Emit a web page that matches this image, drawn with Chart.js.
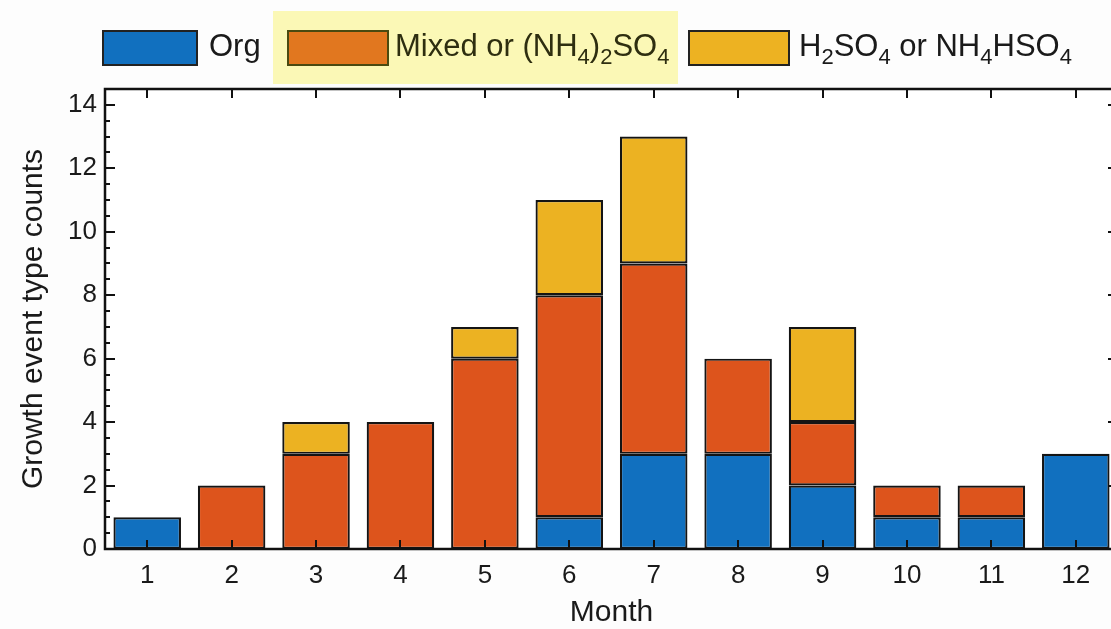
<!DOCTYPE html>
<html>
<head>
<meta charset="utf-8">
<script src="https://cdn.jsdelivr.net/npm/chart.js@4/dist/chart.umd.min.js"></script>
<style>
  html, body { margin: 0; padding: 0; background: #fdfdfd; overflow: hidden; width: 1111px; height: 629px; }
  #wrap { position: absolute; left: 0; top: 0; width: 1125px; height: 629px; }
  #legend { position: absolute; left: 0; top: 0; width: 1111px; height: 90px; font-family: "Liberation Sans", Arial, sans-serif; font-size: 31px; color: #1a1a1a; }
  .hl { position: absolute; left: 273px; top: 11px; width: 405px; height: 73px; background: #fbf8b6; }
  .patch { position: absolute; top: 30px; height: 36px; border: 2px solid #222; box-sizing: border-box; }
  .lt { position: absolute; top: 28px; line-height: 36px; white-space: nowrap; }
  .lt sub { font-size: 22px; vertical-align: -8px; line-height: 0; }
</style>
</head>
<body>
<div id="wrap"><canvas id="c" width="1125" height="629"></canvas></div>
<div id="legend">
  <div class="hl"></div>
  <div class="patch" style="left:102px;width:96px;background:#1170bf"></div>
  <div class="lt" style="left:209px">Org</div>
  <div class="patch" style="left:287px;width:102px;background:#e1771f;border-color:#4a4a10"></div>
  <div class="lt" style="left:395px;color:#2e2e10">Mixed or (NH<sub>4</sub>)<sub>2</sub>SO<sub>4</sub></div>
  <div class="patch" style="left:688px;width:102px;background:#edb222"></div>
  <div class="lt" style="left:799px">H<sub>2</sub>SO<sub>4</sub> or NH<sub>4</sub>HSO<sub>4</sub></div>
</div>
<script>
const months = ["1","2","3","4","5","6","7","8","9","10","11","12"];
const orgCounts   = [1, 0, 0, 0, 0, 1, 3, 3, 2, 1, 1, 3];
const mixedCounts = [0, 2, 3, 4, 6, 7, 6, 3, 2, 1, 1, 0];
const acidCounts  = [0, 0, 1, 0, 1, 3, 4, 0, 3, 0, 0, 0];
const yTicks = [0, 2, 4, 6, 8, 10, 12, 14];

const FONT = '"Liberation Sans", Arial, sans-serif';

const framePlugin = {
  id: 'frame',
  afterDatasetsDraw(chart) {
    const ctx = chart.ctx, a = chart.chartArea;
    const xs = chart.scales.x, ys = chart.scales.y;
    ctx.save();
    ctx.strokeStyle = '#111';
    ctx.lineWidth = 2;
    ctx.beginPath();
    for (let v = 0; v <= 14.01; v += 0.5) {
      const y = Math.round(ys.getPixelForValue(v));
      const major = Math.abs(v % 2) < 1e-6;
      const len = major ? 10 : 5;
      ctx.moveTo(a.left, y); ctx.lineTo(a.left + len, y);
      ctx.moveTo(a.right, y); ctx.lineTo(a.right - len, y);
    }
    for (let i = 0; i < months.length; i++) {
      const x = Math.round(xs.getPixelForValue(i));
      ctx.moveTo(x, a.bottom); ctx.lineTo(x, a.bottom - 9);
      ctx.moveTo(x, a.top); ctx.lineTo(x, a.top + 9);
    }
    ctx.stroke();
    ctx.lineWidth = 2.5;
    ctx.strokeRect(a.left, a.top, a.right - a.left, a.bottom - a.top);
    ctx.restore();
  }
};

const plotBg = {
  id: 'plotBg',
  beforeDraw(chart) {
    const ctx = chart.ctx, a = chart.chartArea;
    ctx.save();
    ctx.fillStyle = '#ffffff';
    ctx.fillRect(a.left, a.top, a.right - a.left, a.bottom - a.top);
    ctx.restore();
  }
};

const common = { borderColor: '#141414', borderWidth: 2.2, borderSkipped: false, barPercentage: 0.8, categoryPercentage: 1.0 };

new Chart(document.getElementById('c'), {
  type: 'bar',
  data: {
    labels: months,
    datasets: [
      Object.assign({ label: 'Org', data: orgCounts, backgroundColor: '#1170bf' }, common),
      Object.assign({ label: 'Mixed or (NH4)2SO4', data: mixedCounts, backgroundColor: '#dd541c' }, common),
      Object.assign({ label: 'H2SO4 or NH4HSO4', data: acidCounts, backgroundColor: '#ecb222' }, common)
    ]
  },
  options: {
    responsive: false,
    animation: false,
    devicePixelRatio: 1,
    layout: { padding: { top: 89, right: 7, left: 0, bottom: 0 } },
    plugins: { legend: { display: false }, tooltip: { enabled: false } },
    scales: {
      x: {
        stacked: true,
        grid: { display: false, drawTicks: false },
        border: { display: false },
        ticks: { color: '#1a1a1a', font: { family: FONT, size: 26 }, padding: 11, maxRotation: 0 },
        title: { display: true, text: 'Month', color: '#1a1a1a', font: { family: FONT, size: 30 }, padding: { top: 0, bottom: -2 } },
        afterFit(s) { s.height = 80; }
      },
      y: {
        stacked: true,
        min: 0, max: 14.5,
        grid: { display: false, drawTicks: false },
        border: { display: false },
        afterBuildTicks(s) { s.ticks = yTicks.map(v => ({ value: v })); },
        ticks: { color: '#1a1a1a', font: { family: FONT, size: 26 }, padding: 8 },
        title: { display: true, text: 'Growth event type counts', color: '#1a1a1a', font: { family: FONT, size: 30 }, padding: { top: 16, bottom: 0 } },
        afterFit(s) { s.width = 105; }
      }
    }
  },
  plugins: [plotBg, framePlugin]
});
</script>
</body>
</html>
